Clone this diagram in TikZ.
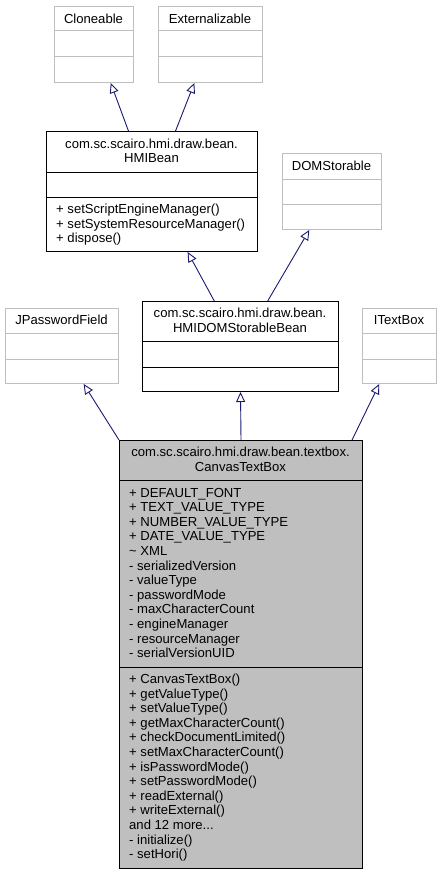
\documentclass[tikz,border=0pt]{standalone}
\usepackage{fontspec}
\setmainfont{Liberation Sans}
\usetikzlibrary{arrows.meta,calc}

\definecolor{edgeblue}{HTML}{191970}
\definecolor{boxgrey}{HTML}{BFBFBF}

\tikzset{
  classbox/.style={draw=black, line width=1pt, fill=white, inner sep=0pt, anchor=north west},
  extbox/.style={draw=boxgrey, line width=1pt, fill=white, inner sep=0pt, anchor=north west},
  txt/.style={font=\fontsize{13.1}{14.6}\selectfont, inner sep=0pt, align=center},
  member/.style={font=\fontsize{13.1}{14.6}\selectfont, inner sep=0pt, anchor=base west},
  inherit/.style={draw=edgeblue, line width=0.9pt, -{Triangle[open, length=10pt, width=9pt]}}
}

\begin{document}
\begin{tikzpicture}[x=1pt, y=-1pt]
        \useasboundingbox (0,0) rectangle (441,875);

        % Interfaces on top
        \node[extbox, minimum width=79pt, minimum height=76pt] (cloneable) at (54,6) {};
        \node[txt] (cloneableT) at (93.5,18.5) {Cloneable};
        \draw[boxgrey, line width=1pt] (54,31) -- (133,31) (54,57) -- (133,57);

        \node[extbox, minimum width=104pt, minimum height=76pt] (extern) at (158,6) {};
        \node[txt] (externT) at (210,18.5) {Externalizable};
        \draw[boxgrey, line width=1pt] (158,31) -- (262,31) (158,57) -- (262,57);

        % HMIBean
        \node[classbox, minimum width=211pt, minimum height=120pt] (hmibean) at (46,131) {};
        \node[txt] (hmibeanT) at (151.5,151) {com.sc.scairo.hmi.draw.bean.\\HMIBean};
        \draw[line width=1pt] (46,172) -- (257,172) (46,197) -- (257,197);
        \foreach \m [count=\i] in {+ setScriptEngineManager(), + setSystemResourceManager(), + dispose()}
            \node[member] (hm\i) at (56,{213.5+14.6*(\i-1)}) {\m};

        \node[extbox, minimum width=99pt, minimum height=76pt] (domstor) at (282,153) {};
        \node[txt] (domstorT) at (331.5,165.5) {DOMStorable};
        \draw[boxgrey, line width=1pt] (282,179) -- (381,179) (282,204) -- (381,204);

        % Middle row
        \node[extbox, minimum width=113pt, minimum height=75pt] (jpass) at (5,308) {};
        \node[txt] (jpassT) at (61.5,320) {JPasswordField};
        \draw[boxgrey, line width=1pt] (5,333) -- (118,333) (5,359) -- (118,359);

        \node[classbox, minimum width=196pt, minimum height=90pt] (hmidom) at (142,301) {};
        \node[txt] (hmidomT) at (240,320.5) {com.sc.scairo.hmi.draw.bean.\\HMIDOMStorableBean};
        \draw[line width=1pt] (142,341) -- (338,341) (142,367) -- (338,367);

        \node[extbox, minimum width=74pt, minimum height=75pt] (itext) at (362,308) {};
        \node[txt] (itextT) at (399,320) {ITextBox};
        \draw[boxgrey, line width=1pt] (362,333) -- (436,333) (362,359) -- (436,359);

        % CanvasTextBox
        \node[classbox, fill=boxgrey, minimum width=243pt, minimum height=428pt] (canvas) at (119,440) {};
        \node[txt] (canvasT) at (240.5,459.5) {com.sc.scairo.hmi.draw.bean.textbox.\\CanvasTextBox};
        \draw[line width=1pt] (119,480) -- (362,480) (119,667) -- (362,667);
        \foreach \m [count=\i] in {+ DEFAULT\_FONT, + TEXT\_VALUE\_TYPE, + NUMBER\_VALUE\_TYPE,
            + DATE\_VALUE\_TYPE, \textasciitilde\ XML, - serializedVersion, - valueType,
            - passwordMode, - maxCharacterCount, - engineManager, - resourceManager,
            - serialVersionUID}
            \node[member] (cf\i) at (129,{497+14.6*(\i-1)}) {\m};
        \foreach \m [count=\i] in {+ CanvasTextBox(), + getValueType(), + setValueType(),
            + getMaxCharacterCount(), + checkDocumentLimited(), + setMaxCharacterCount(),
            + isPasswordMode(), + setPasswordMode(), + readExternal(), + writeExternal(),
            and 12 more.{}.{}., - initialize(), - setHori()}
            \node[member] (cm\i) at (129,{683.5+14.6*(\i-1)}) {\m};

        % Inheritance arrows
        \draw[inherit] ($(hmibean.north west)!0.389!(hmibean.north east)$) -- ($(cloneable.south west)!0.709!(cloneable.south east)$);
        \draw[inherit] ($(hmibean.north west)!0.611!(hmibean.north east)$) -- ($(extern.south west)!0.346!(extern.south east)$);
        \draw[inherit] ($(hmidom.north west)!0.367!(hmidom.north east)$) -- ($(hmibean.south west)!0.668!(hmibean.south east)$);
        \draw[inherit] ($(hmidom.north west)!0.638!(hmidom.north east)$) -- ($(domstor.south west)!0.273!(domstor.south east)$);
        \draw[inherit] (canvas.north west) -- ($(jpass.south west)!0.69!(jpass.south east)$);
        \draw[inherit] (canvas.north) -- (hmidom.south);
        \draw[inherit] ($(canvas.north west)!0.955!(canvas.north east)$) -- ($(itext.south west)!0.23!(itext.south east)$);
    \end{tikzpicture}
\end{document}
